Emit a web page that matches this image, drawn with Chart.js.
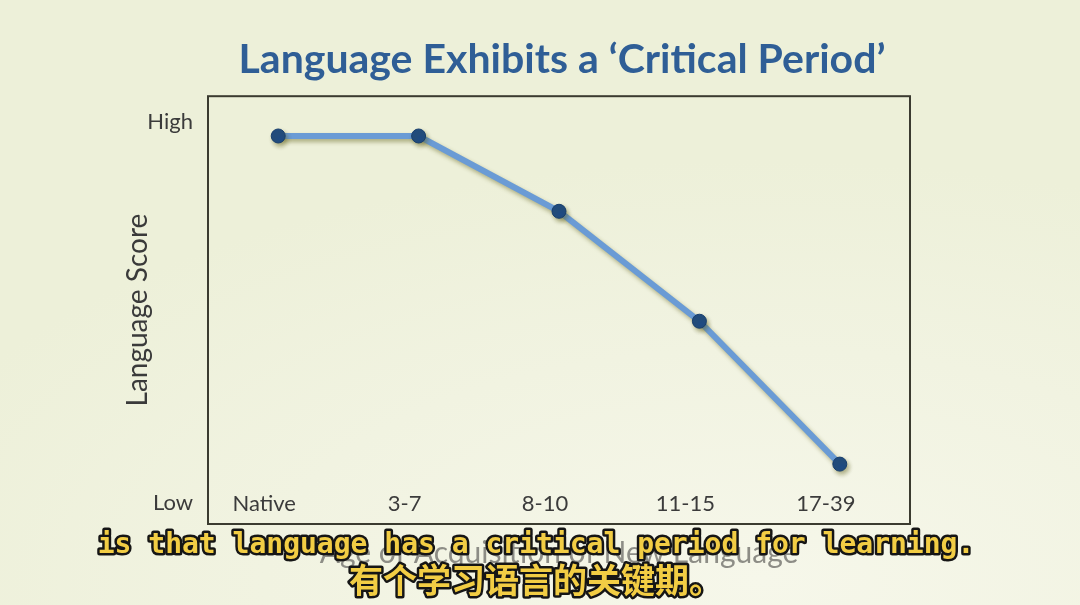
<!DOCTYPE html>
<html>
<head>
<meta charset="utf-8">
<script src="https://cdn.jsdelivr.net/npm/chart.js@4.4.0/dist/chart.umd.min.js"></script>
<style>
  html, body { margin: 0; padding: 0; }
  body {
    width: 1080px; height: 605px; overflow: hidden;
    background: radial-gradient(ellipse 900px 420px at 760px 580px, #f6f7ea 0%, #f1f3e1 55%, #edf0d9 100%);
  }
</style>
</head>
<body>
<canvas id="chart" width="1080" height="605"></canvas>
<script>
// --- data ---
const AGE_GROUPS = ['Native', '3-7', '8-10', '11-15', '17-39'];
const LANGUAGE_SCORES = [90.7, 90.7, 73.1, 47.4, 14.0];
const Y_TICK_VALUES = [5, 94];
const Y_TICK_LABELS = ['Low', 'High'];

const CAPTION_EN = 'is that language has a critical period for learning.';
const CAPTION_ZH = '有个学习语言的关键期。';

// frame around the plot area
const framePlugin = {
    id: 'frame',
    beforeDatasetsDraw(chart) {
        const { ctx, chartArea: a } = chart;
        ctx.save();
        ctx.strokeStyle = '#3b3b30';
        ctx.lineWidth = 2;
        ctx.strokeRect(a.left, a.top, a.right - a.left, a.bottom - a.top);
        ctx.restore();
    }
};

// soft drop shadow under the line and dots
const shadowPlugin = {
    id: 'lineShadow',
    beforeDatasetDraw(chart) {
        const ctx = chart.ctx;
        ctx.save();
        ctx.shadowColor = 'rgba(90, 90, 20, 0.45)';
        ctx.shadowBlur = 4;
        ctx.shadowOffsetX = 2;
        ctx.shadowOffsetY = 3;
    },
    afterDatasetDraw(chart) {
        chart.ctx.restore();
    }
};

// burned-in video subtitles
const captionPlugin = {
    id: 'captions',
    afterDraw(chart) {
        const ctx = chart.ctx;
        const cx = 536;
        ctx.save();
        ctx.textAlign = 'center';
        ctx.textBaseline = 'middle';
        ctx.lineJoin = 'round';
        ctx.strokeStyle = '#151515';
        ctx.fillStyle = '#f2cd44';

        ctx.font = 'bold 28px "DejaVu Sans Mono"';
        ctx.lineWidth = 5;
        ctx.strokeText(CAPTION_EN, cx, 546);
        ctx.fillText(CAPTION_EN, cx, 546);

        ctx.font = 'bold 34px "Noto Sans CJK SC"';
        ctx.strokeText(CAPTION_ZH, cx, 580);
        ctx.fillText(CAPTION_ZH, cx, 580);
        ctx.restore();
    }
};

new Chart(document.getElementById('chart'), {
    type: 'line',
    data: {
        labels: AGE_GROUPS,
        datasets: [{
            data: LANGUAGE_SCORES,
            borderColor: '#6a9bd5',
            borderWidth: 6,
            tension: 0,
            pointRadius: 7,
            pointBackgroundColor: '#1f4b82',
            pointBorderColor: '#183e6c',
            pointBorderWidth: 1
        }]
    },
    options: {
        responsive: false,
        animation: false,
        layout: { padding: { left: 44, right: 0, top: 0, bottom: 0 } },
        plugins: {
            legend: { display: false },
            tooltip: { enabled: false },
            title: {
                display: true,
                text: 'Language Exhibits a \u2018Critical Period\u2019',
                color: '#2f5e96',
                font: { family: 'Lato', size: 41, weight: 'bold' },
                padding: { top: 35, bottom: 12 }
            }
        },
        scales: {
            x: {
                offset: true,
                grid: { display: false, drawTicks: false },
                border: { display: false },
                ticks: {
                    color: '#3b3b3b',
                    font: { family: 'Lato', size: 22 },
                    mirror: true,
                    padding: 7,
                    labelOffset: -14,
                    maxRotation: 0,
                    autoSkip: false
                },
                title: {
                    display: true,
                    text: 'Age of Acquisition of New Language',
                    color: '#8d8d86',
                    font: { family: 'Lato', size: 30 },
                    padding: { top: 0, bottom: 34 }
                },
                afterFit: s => { s.height = 81; }
            },
            y: {
                min: 0,
                max: 100,
                grid: { display: false, drawTicks: false },
                border: { display: false },
                afterBuildTicks: s => { s.ticks = Y_TICK_VALUES.map(v => ({ value: v })); },
                ticks: {
                    color: '#3b3b3b',
                    font: { family: 'Lato', size: 22 },
                    padding: 15,
                    callback: v => Y_TICK_LABELS[Y_TICK_VALUES.indexOf(v)]
                },
                title: {
                    display: true,
                    text: 'Language Score',
                    color: '#3a3a3a',
                    font: { family: 'Lato', size: 28 },
                    padding: { top: 77, bottom: 0 }
                },
                afterFit: s => { s.width = 164; }
            },
            yRight: {
                position: 'right',
                grid: { display: false },
                border: { display: false },
                ticks: { display: false },
                afterFit: s => { s.width = 170; }
            }
        }
    },
    plugins: [framePlugin, shadowPlugin, captionPlugin]
});
</script>
</body>
</html>
